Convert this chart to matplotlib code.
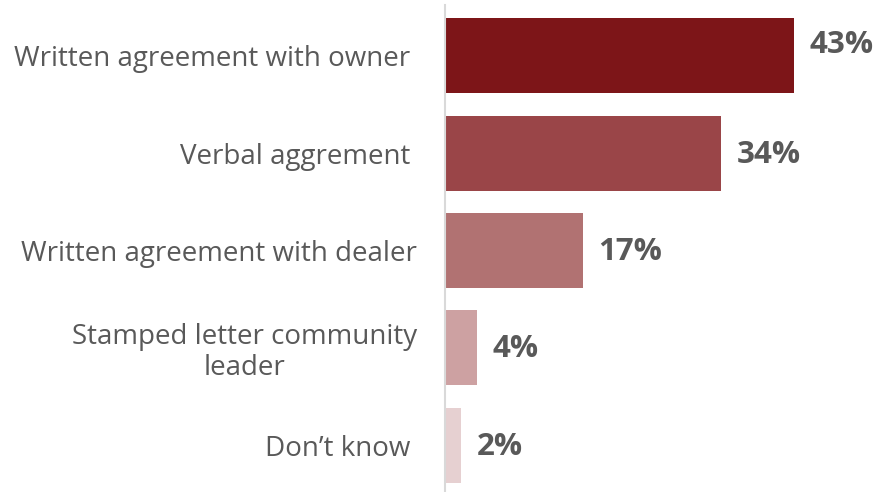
import matplotlib.pyplot as plt

categories = ["Written agreement with owner ", "Verbal aggrement ", "Written agreement with dealer",
              "Stamped letter community\nleader", "Don\u2019t know "]
values = [43, 34, 17, 4, 2]
colors = ["#7D1518", "#9A4548", "#B17272", "#CDA1A2", "#E6D0D1"]

plt.rcParams['font.family'] = ['Open Sans', 'DejaVu Sans']

fig = plt.figure(figsize=(8.75, 4.92), dpi=100)
ax = fig.add_axes([445/875, 0, 430/875, 1 - 5/492])

ypos = list(range(len(values)))
ax.barh(ypos, values, height=0.77, color=colors, zorder=2)
ax.set_xlim(0, 53)
ax.set_ylim(4.48, -0.52)

# top label sits a little higher so it clears the bar end
for i, (y, v) in enumerate(zip(ypos, values)):
    dy = -0.11 if i == 0 else 0.015
    ax.text(v + 1.9, y + dy, "%d%%" % v, va='center', ha='left', fontsize=22.5,
            fontweight='bold', color='#595959')

ax.set_yticks(ypos)
ax.set_yticklabels(categories, fontsize=20, color='#595959', linespacing=1.15)
for lab in ax.get_yticklabels():
    lab.set_multialignment('center')
ax.tick_params(axis='y', length=0, pad=20)
ax.set_xticks([])
for side in ['top', 'right', 'bottom']:
    ax.spines[side].set_visible(False)
ax.spines['left'].set_color('#D9D9D9')
ax.spines['left'].set_linewidth(1.5)

fig.savefig("out.png", dpi=100)
